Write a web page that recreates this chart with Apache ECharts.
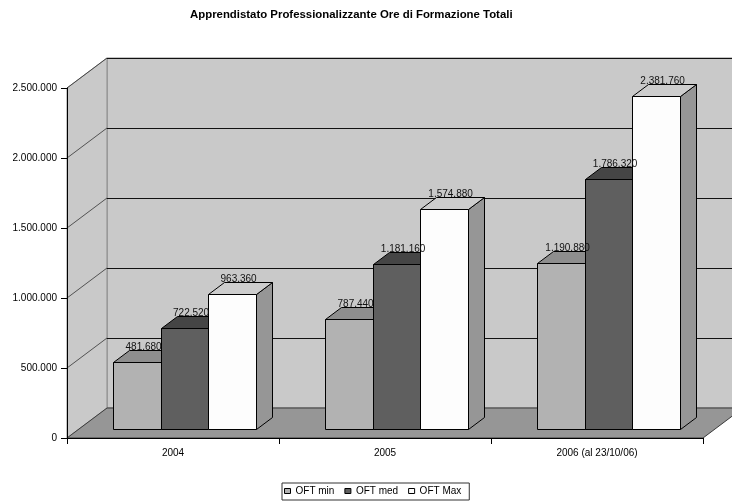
<!DOCTYPE html>
<html>
<head>
<meta charset="utf-8">
<script src="https://cdn.jsdelivr.net/npm/echarts@6/dist/echarts.min.js"></script>
<style>
  html, body { margin: 0; padding: 0; background: #fff; }
  #chart { width: 732px; height: 502px; }
</style>
</head>
<body>
<div id="chart"></div>
<script>
// Data
const categories = ['2004', '2005', '2006 (al 23/10/06)'];
const seriesNames = ['OFT min', 'OFT med', 'OFT Max'];
const oftMin = [481680, 787440, 1190880];
const oftMed = [722520, 1181160, 1786320];
const oftMax = [963360, 1574880, 2381760];
const yTicks = [0, 500000, 1000000, 1500000, 2000000, 2500000];

// 3D look: depth of the plot box and placement of the bars inside it
const DX = 40, DY = -30;           // back wall offset from the front plane
const FRONT = 0.29;                // bar front face depth (fraction of DX/DY)
const DEPTH = 0.40;                // bar depth (fraction of DX/DY)
const BAR_FRAC = 0.224;            // bar width as a fraction of the category band

const faceColors = [
  { front: '#b2b2b2', top: '#8e8e8e', side: '#7a7a7a' },
  { front: '#5f5f5f', top: '#454545', side: '#3a3a3a' },
  { front: '#fdfdfd', top: '#cdcdcd', side: '#969696' }
];

const FONT = 'Liberation Sans, Arial, sans-serif';

function fmt(n) {
  return String(n).replace(/\B(?=(\d{3})+(?!\d))/g, '.');
}

function px(v) { return Math.round(v) + 0.5; }

function renderWalls(params, api) {
  const cs = params.coordSys;
  const L = cs.x, R = cs.x + cs.width, T = cs.y, B = cs.y + cs.height;
  const children = [];
  // back wall
  children.push({
    type: 'polygon',
    shape: { points: [[L + DX, T + DY], [R + DX, T + DY], [R + DX, B + DY], [L + DX, B + DY]] },
    style: { fill: '#c9c9c9', stroke: '#8a8a8a', lineWidth: 1 }
  });
  // side wall
  children.push({
    type: 'polygon',
    shape: { points: [[L, T], [L + DX, T + DY], [L + DX, B + DY], [L, B]] },
    style: { fill: '#c9c9c9', stroke: '#8a8a8a', lineWidth: 1 }
  });
  // gridlines on back and side walls
  yTicks.forEach(function (v) {
    if (v === 0) return;
    const y = api.coord([0, v])[1];
    children.push({
      type: 'line',
      shape: { x1: L + DX, y1: px(y + DY), x2: R + DX, y2: px(y + DY) },
      style: { stroke: '#111', lineWidth: 1 }
    });
    children.push({
      type: 'line',
      shape: { x1: L, y1: y, x2: L + DX, y2: y + DY },
      style: { stroke: '#333', lineWidth: 0.8 }
    });
  });
  // floor
  children.push({
    type: 'polygon',
    shape: { points: [[L, B], [R, B], [R + DX, B + DY], [L + DX, B + DY]] },
    style: { fill: '#969696', stroke: '#3a3a3a', lineWidth: 1 }
  });
  return { type: 'group', children: children };
}

function makeBarRenderer(s) {
  const col = faceColors[s];
  return function (params, api) {
    const c = api.value(0), v = api.value(1);
    const top = api.coord([c, v]);
    const base = api.coord([c, 0]);
    const band = api.size([1, 0])[0];
    const w = band * BAR_FRAC;
    const fx = DX * FRONT, fy = DY * FRONT;
    const dx = DX * DEPTH, dy = DY * DEPTH;
    const x = Math.round(top[0] - 1.5 * w + s * w + fx) + 0.5;
    const xr = Math.round(top[0] - 1.5 * w + (s + 1) * w + fx) + 0.5;
    const y1 = Math.round(top[1] + fy) + 0.5;
    const y0 = Math.round(base[1] + fy) + 0.5;
    const edge = { stroke: '#000', lineWidth: 1, lineJoin: 'round' };
    return {
      type: 'group',
      children: [
        {
          type: 'polygon',
          shape: { points: [[xr, y1], [xr + dx, y1 + dy], [xr + dx, y0 + dy], [xr, y0]] },
          style: Object.assign({ fill: col.side }, edge)
        },
        {
          type: 'polygon',
          shape: { points: [[x, y1], [xr, y1], [xr + dx, y1 + dy], [x + dx, y1 + dy]] },
          style: Object.assign({ fill: col.top }, edge)
        },
        {
          type: 'rect',
          shape: { x: x, y: y1, width: xr - x, height: y0 - y1 },
          style: Object.assign({ fill: col.front }, edge)
        },
        {
          type: 'text',
          z2: 100,
          style: {
            text: fmt(v),
            x: (x + xr) / 2 + dx * 0.38,
            y: y1 + dy - 3,
            align: 'center',
            verticalAlign: 'middle',
            fill: '#111',
            font: '10px ' + FONT
          }
        }
      ]
    };
  };
}

const valueSets = [oftMin, oftMed, oftMax];

const barSeries = valueSets.map(function (vals, s) {
  return {
    name: seriesNames[s],
    type: 'custom',
    renderItem: makeBarRenderer(s),
    itemStyle: { color: faceColors[s].front, borderColor: '#000', borderWidth: 1 },
    encode: { x: 0, y: 1 },
    data: categories.map(function (_, i) { return [i, vals[i]]; }),
    z: 3
  };
});

const chart = echarts.init(document.getElementById('chart'), null, { renderer: 'canvas' });

chart.setOption({
  backgroundColor: '#fff',
  animation: false,
  title: {
    text: 'Apprendistato Professionalizzante Ore di Formazione Totali',
    left: 190,
    top: 9,
    padding: 0,
    textStyle: { fontFamily: FONT, fontSize: 11.4, fontWeight: 'bold', color: '#000' }
  },
  grid: { left: 67, right: 29, top: 88, bottom: 64 },
  legend: {
    left: 282,
    top: 483,
    padding: [3, 8, 4, 2],
    borderColor: '#333',
    borderWidth: 1,
    itemWidth: 6,
    itemHeight: 5,
    itemGap: 10,
    icon: 'rect',
    selectedMode: false,
    textStyle: { fontFamily: FONT, fontSize: 10, color: '#000' },
    data: seriesNames.map(function (n, s) {
      return { name: n, icon: 'rect', itemStyle: { color: faceColors[s].front, borderColor: '#000', borderWidth: 1 } };
    })
  },
  xAxis: {
    type: 'category',
    data: categories,
    z: 10,
    axisLine: { show: true, lineStyle: { color: '#000', width: 1 } },
    axisTick: { show: true, length: 6, lineStyle: { color: '#000' } },
    axisLabel: { fontFamily: FONT, fontSize: 10, color: '#000', margin: 10 },
    splitLine: { show: false }
  },
  yAxis: {
    type: 'value',
    min: 0,
    max: 2500000,
    interval: 500000,
    z: 10,
    axisLine: { show: true, lineStyle: { color: '#000', width: 1 } },
    axisTick: { show: true, length: 6, lineStyle: { color: '#000' } },
    axisLabel: { fontFamily: FONT, fontSize: 10, color: '#000', margin: 10, formatter: function (v) { return fmt(v); } },
    splitLine: { show: false }
  },
  series: [
    {
      type: 'custom',
      silent: true,
      renderItem: renderWalls,
      encode: { x: 0, y: 1 },
      data: [[0, 0]],
      z: 1
    }
  ].concat(barSeries)
});
</script>
</body>
</html>
